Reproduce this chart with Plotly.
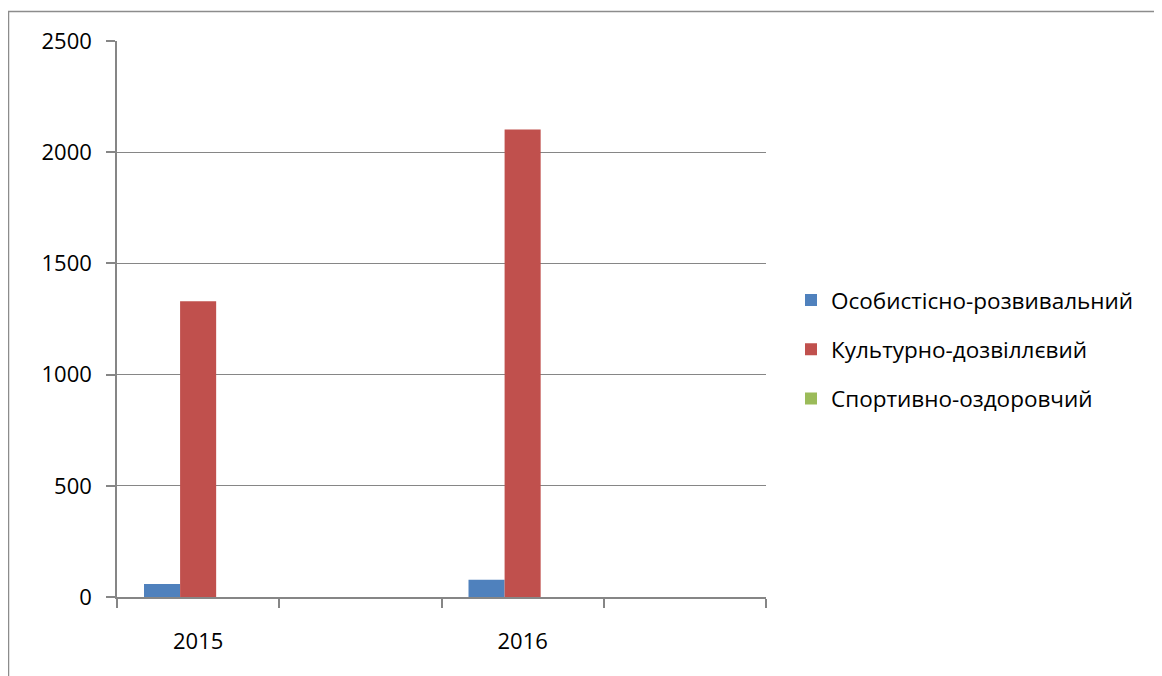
import plotly.graph_objects as go

categories = ["2015", " ", "2016", "  "]
series_names = ["Особистісно-розвивальний", "Культурно-дозвіллєвий", "Спортивно-оздоровчий"]
osobystisno = [58, None, 78, None]
kulturno = [1330, None, 2102, None]
sportyvno = [0, None, 0, None]
colors = ["#4F81BD", "#C0504D", "#9BBB59"]
y_ticks = [0, 500, 1000, 1500, 2000, 2500]

OFF = 8  # page body margin
W, H = 1162, 676
L, R, T, B = 117 - OFF, 766 - OFF, 41 - OFF, 597.5 - OFF

fig = go.Figure()
for name, vals, col in zip(series_names, [osobystisno, kulturno, sportyvno], colors):
    fig.add_trace(go.Bar(x=categories, y=vals, name=name, marker_color=col,
                         marker_line_width=0, legendgroup=name))

pw, ph = R - L, B - T
def px(x):
    return (x - OFF - L) / pw
def py(y):
    return (B - (y - OFF)) / ph

fig.add_shape(type="path", xref="paper", yref="paper",
              path=f"M {px(8.5)} {py(690)} L {px(8.5)} {py(11.5)} L {px(1180)} {py(11.5)}",
              line=dict(color="#8C8C8C", width=1.5))

font = "Open Sans, Liberation Sans, sans-serif"
fig.update_layout(
    width=W, height=H,
    margin=dict(l=L, r=W - R, t=T, b=H - B, pad=0),
    paper_bgcolor="white", plot_bgcolor="white",
    barmode="group", bargap=0.333, bargroupgap=0,
    font=dict(family=font, size=22, color="black"),
    showlegend=True,
    legend=dict(x=px(791), y=py(279), xanchor="left", yanchor="top",
                font=dict(size=22.5, family=font, color="black"),
                tracegroupgap=17, itemwidth=30, bgcolor="rgba(0,0,0,0)"),
    xaxis=dict(type="category", showgrid=False, showline=True, linecolor="#868686", linewidth=1.5,
               ticks="outside", tickson="boundaries", ticklen=9, tickcolor="#868686", tickwidth=1.5,
               tickfont=dict(size=22), ticklabelstandoff=24),
    yaxis=dict(range=[0, 2500], tickvals=y_ticks, showgrid=True, gridcolor="#868686", gridwidth=1,
               showline=True, linecolor="#868686", linewidth=1.5, zeroline=False,
               ticks="outside", ticklen=9, tickcolor="#868686", tickwidth=1.5,
               tickfont=dict(size=22), ticklabelstandoff=10),
)

fig.write_html("out.html")
